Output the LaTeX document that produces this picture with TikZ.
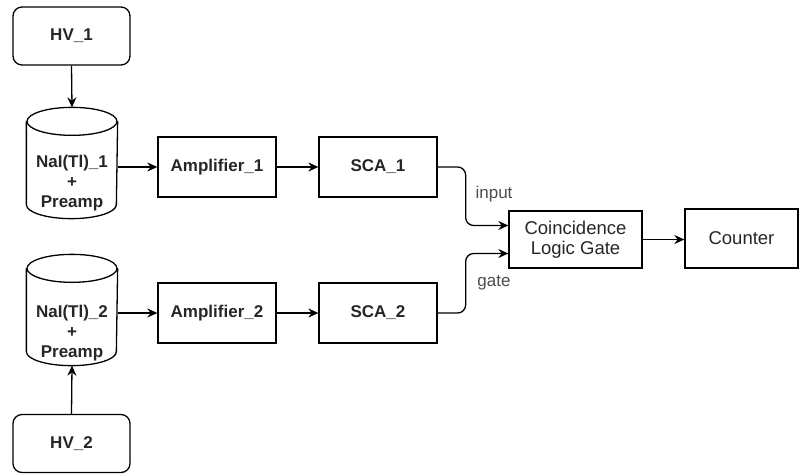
\documentclass[tikz,border=0pt]{standalone}
\usepackage{fontspec}
\setmainfont{Liberation Sans}
\usetikzlibrary{arrows.meta,calc}
\begin{document}
\begin{tikzpicture}[x=1pt,y=-1pt,
  line width=1.3pt,
  bt/.style={font=\fontsize{17}{20}\selectfont\bfseries, text=black!85},
  rt/.style={font=\fontsize{18.5}{20}\selectfont, text=black!85},
  boxs/.style={draw, rectangle, minimum width=118pt, minimum height=60pt, inner sep=0pt, align=center},
  hv/.style={boxs, rounded corners=9pt, minimum width=117pt, minimum height=58pt, bt},
  cylbox/.style={rectangle, minimum width=90pt, minimum height=110pt, inner sep=0pt},
  arr/.style={-{Stealth[length=10pt,width=9pt]}, line width=1.3pt},
  lbl/.style={font=\fontsize{17}{20}\selectfont, text=black!70}
]
\useasboundingbox (0,0) rectangle (800,474);
% HV supplies
\node[hv] (hv1) at (71.5,36) {HV\_1};
\node[hv] (hv2) at (71.5,443.5) {HV\_2};
% detector cylinders
\node[cylbox] (cyl1) at (72,163) {};
\node[cylbox] (cyl2) at (72,310) {};
\foreach \c in {cyl1,cyl2}{
  \draw ($(\c.north west)+(0,14)$) -- ($(\c.south west)+(0,-14)$)
        arc[start angle=180,end angle=360,x radius=45pt,y radius=14pt]
        -- ($(\c.north east)+(0,14)$);
  \draw ($(\c.north)+(0,14)$) ellipse[x radius=45pt,y radius=14pt];
}
\node[bt, align=center] (cyl1t) at (72,183) {NaI(Tl)\_1\\+\\Preamp};
\node[bt, align=center] (cyl2t) at (72,333) {NaI(Tl)\_2\\+\\Preamp};
% chain boxes
\node[boxs, bt] (amp1) at (217,167) {Amplifier\_1};
\node[boxs, bt] (sca1) at (378,167) {SCA\_1};
\node[boxs, bt] (amp2) at (217,313) {Amplifier\_2};
\node[boxs, bt] (sca2) at (378,313) {SCA\_2};
\node[boxs, rt, minimum width=133pt, minimum height=57pt] (coinc) at (575.5,239.5) {Coincidence\\Logic Gate};
\node[boxs, rt, minimum width=113pt, minimum height=59pt] (counter) at (741.5,238.5) {Counter};
% connectors
\draw[arr] (hv1.south) -- (cyl1.north);
\draw[arr] (hv2.north) -- (cyl2.south);
\draw[arr] (amp1.west -| cyl1.east) -- (amp1.west);
\draw[arr] (amp2.west -| cyl2.east) -- (amp2.west);
\draw[arr] (amp1) -- (sca1);
\draw[arr] (amp2) -- (sca2);
\coordinate (inpt) at ($(coinc.west)+(0,-14)$);
\coordinate (gtpt) at ($(coinc.west)+(0,14)$);
\draw[arr, rounded corners=8pt] (sca1.east) -- ++(28,0) |- (inpt);
\draw[arr, rounded corners=8pt] (sca2.east) -- ++(28,0) |- (gtpt);
\node[lbl] (lin) at (494,194) {input};
\node[lbl] (lgate) at (494,283) {gate};
\draw[arr] (coinc.east) -- (coinc.east -| counter.west);
\end{tikzpicture}
\end{document}
